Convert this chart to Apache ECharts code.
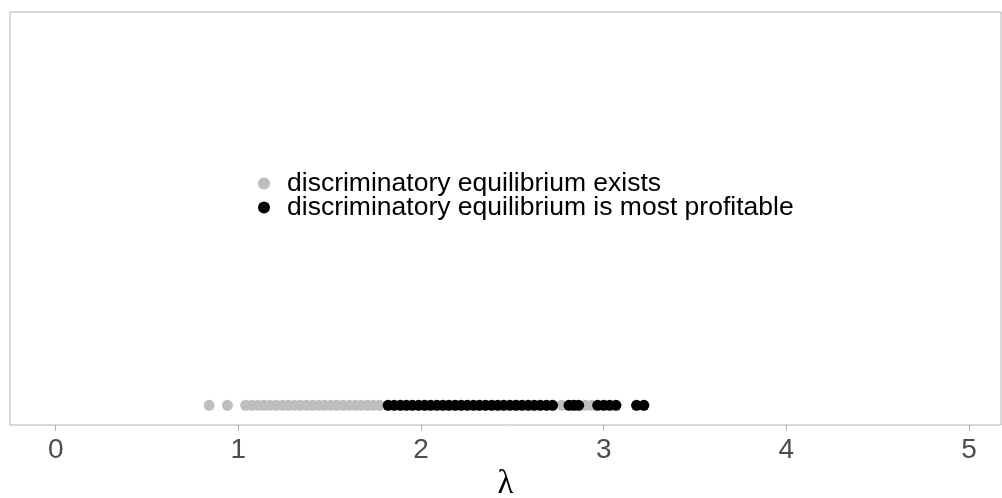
<!DOCTYPE html>
<html>
<head>
<meta charset="utf-8">
<script src="https://cdn.jsdelivr.net/npm/echarts@6/dist/echarts.min.js"></script>
<style>html,body{margin:0;padding:0;background:#fff;}#c{width:1002px;height:498px;}</style>
</head>
<body>
<div id="c"></div>
<script>
// λ values where a discriminatory equilibrium exists (grey) and where it is most profitable (black)
const existsLambda = [0.84, 0.94,
  1.04, 1.073, 1.107, 1.14, 1.173, 1.207, 1.24, 1.273, 1.307, 1.34, 1.373, 1.407,
  1.44, 1.473, 1.507, 1.54, 1.573, 1.607, 1.64, 1.673, 1.707, 1.74, 1.773,
  2.77, 2.90, 2.933];
const profitableLambda = [1.82, 1.853, 1.887, 1.92, 1.953, 1.987, 2.02, 2.053, 2.087, 2.12,
  2.153, 2.187, 2.22, 2.253, 2.287, 2.32, 2.353, 2.387, 2.42, 2.453, 2.487, 2.52,
  2.553, 2.587, 2.62, 2.653, 2.687, 2.72,
  2.81, 2.837, 2.863,
  2.967, 3.0, 3.033, 3.067,
  3.18, 3.22];
const xTicks = [0, 1, 2, 3, 4, 5];
const seriesNames = ['discriminatory equilibrium exists', 'discriminatory equilibrium is most profitable'];

const chart = echarts.init(document.getElementById('c'), null, {renderer: 'canvas'});
chart.setOption({
  animation: false,
  backgroundColor: '#ffffff',
  grid: {left: 10, right: 1, top: 12, bottom: 73, show: true, borderColor: '#b3b3b3', borderWidth: 1,
         backgroundColor: 'transparent', containLabel: false, outerBoundsMode: 'none'},
  legend: {
    orient: 'vertical', left: 253, top: 165, itemGap: -3, itemWidth: 12, itemHeight: 12,
    icon: 'circle',
    textStyle: {fontFamily: 'Liberation Sans, Arial, sans-serif', fontSize: 26.5, lineHeight: 23, color: '#000', padding: [0,0,0,12]},
    data: seriesNames
  },
  xAxis: {
    type: 'value', min: -0.25, max: 5.175,
    axisLine: {show: false, onZero: false},
    splitLine: {show: false},
    axisTick: {show: true, inside: false, customValues: xTicks, length: 6, lineStyle: {color: '#b3b3b3'}},
    axisLabel: {customValues: xTicks, fontSize: 28, color: '#4d4d4d', margin: 11, fontFamily: 'Liberation Sans, Arial, sans-serif'},
    name: 'λ', nameLocation: 'middle', nameGap: 43, nameMoveOverlap: false,
    nameTextStyle: {fontSize: 33, color: '#000', fontFamily: 'Liberation Serif, DejaVu Serif, serif'}
  },
  yAxis: {type: 'value', min: -0.05, max: 1, show: false},
  series: [
    {name: seriesNames[0], type: 'scatter', symbolSize: 11, itemStyle: {color: '#bebebe', opacity: 1},
     data: existsLambda.map(v => [v, 0]), z: 2},
    {name: seriesNames[1], type: 'scatter', symbolSize: 11, itemStyle: {color: '#000000', opacity: 1},
     data: profitableLambda.map(v => [v, 0]), z: 3}
  ]
});
</script>
</body>
</html>
